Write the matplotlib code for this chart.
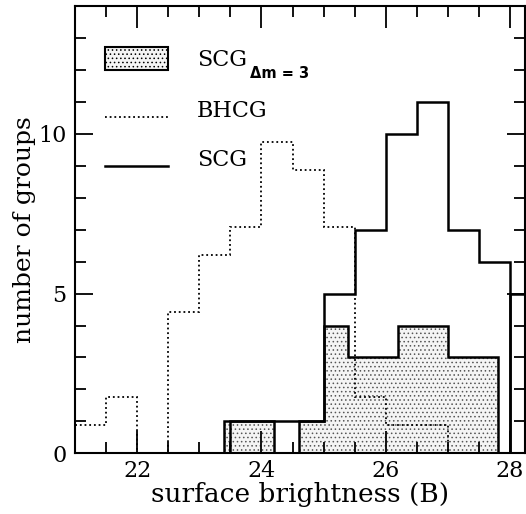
import numpy as np
import matplotlib
matplotlib.use("Agg")
import matplotlib.pyplot as plt

plt.rcParams['font.family'] = ['DejaVu Serif']
plt.rcParams['mathtext.fontset'] = 'dejavuserif'
plt.rcParams['hatch.linewidth'] = 0.6
plt.rcParams['hatch.color'] = '#555555'

# BHCG (dotted), bins of 0.5 starting at 21.0
bhcg_edges = [21.0, 21.5, 22.0, 22.5, 23.0, 23.5, 24.0, 24.5, 25.0, 25.5, 26.0, 26.5, 27.0]
bhcg_counts = [0.89, 1.77, 0.0, 4.43, 6.2, 7.09, 9.75, 8.86, 7.09, 1.77, 0.89, 0.89]

# SCG (solid), bins of 0.5 starting at 23.5
scg_edges = [23.5, 24.0, 24.5, 25.0, 25.5, 26.0, 26.5, 27.0, 27.5, 28.0, 28.5]
scg_counts = [1, 1, 1, 5, 7, 10, 11, 7, 6, 5]

# SCG dm=3 (shaded), bins of 0.4 starting at 23.4
dm3_edges = [23.4, 23.8, 24.2, 24.6, 25.0, 25.4, 25.8, 26.2, 26.6, 27.0, 27.4, 27.8]
dm3_counts = [1, 1, 0, 1, 4, 3, 3, 4, 4, 3, 3]

xticks_major = [22, 24, 26, 28]
yticks_major = [0, 5, 10]

fig = plt.figure(figsize=(5.26, 5.14), dpi=100)
ax = fig.add_axes([75/526, (514-453.3)/514, (525-75)/526, (453.3-6)/514])

# shaded histogram
ax.stairs(dm3_counts, dm3_edges, baseline=0, fill=True, facecolor='#f4f4f4',
          hatch='....', edgecolor='#555555', linewidth=0, zorder=1)
ax.stairs(dm3_counts, dm3_edges, baseline=0, fill=False, color='black',
          linewidth=1.8, zorder=3)

# BHCG dotted
ax.stairs(bhcg_counts, bhcg_edges, baseline=0, fill=False, color='black',
          linewidth=1.3, linestyle=(0, (1, 1.6)), zorder=2)

# SCG solid
ax.stairs(scg_counts[:-1], scg_edges[:-1], baseline=0, fill=False, color='black',
          linewidth=1.8, zorder=3)
ax.stairs(scg_counts[-1:], scg_edges[-2:], baseline=0, fill=False, color='black',
          linewidth=1.8, zorder=3)

ax.set_xlim(21.0, 28.24)
ax.set_ylim(0, 14)

ax.set_xticks(xticks_major)
ax.set_xticks(np.arange(21.5, 28.3, 0.5), minor=True)
ax.set_yticks(yticks_major)
ax.set_yticks(np.arange(0, 14.1, 1), minor=True)
ax.tick_params(which='both', direction='in', top=True, right=True, labelsize=16, width=1.3)
ax.tick_params(axis='x', which='major', length=16, pad=5)
ax.tick_params(axis='y', which='major', length=13, pad=6)
ax.tick_params(which='minor', length=8)
for s in ax.spines.values():
    s.set_linewidth(1.5)

ax.set_xlabel('surface brightness (B)', fontsize=19, labelpad=0)
ax.set_ylabel('number of groups', fontsize=18, labelpad=2)

# legend (custom)
T = ax.transAxes
def fx(px):
    return (px - 75) / (525 - 75)
def fy(py):
    return (453.3 - py) / (453.3 - 6)

ax.add_patch(plt.Rectangle((fx(105), fy(70)), fx(168) - fx(105), fy(46.7) - fy(70),
                           transform=T, facecolor='#f4f4f4', hatch='....',
                           edgecolor='black', linewidth=1.5, zorder=4))
ax.plot([fx(105), fx(168)], [fy(116.7), fy(116.7)], transform=T, color='black',
        linewidth=1.3, linestyle=(0, (1, 1.6)))
ax.plot([fx(105), fx(168)], [fy(165.7), fy(165.7)], transform=T, color='black',
        linewidth=1.8)
ax.text(fx(197), fy(60), 'SCG', transform=T, fontsize=16, va='center', ha='left')
ax.text(fx(250), fy(74), 'Δm = 3', transform=T, fontsize=10.5, va='center', ha='left',
        family=['DejaVu Sans'], fontweight='bold')
ax.text(fx(197), fy(111), 'BHCG', transform=T, fontsize=16, va='center', ha='left')
ax.text(fx(197), fy(160), 'SCG', transform=T, fontsize=16, va='center', ha='left')

fig.savefig('out.png', dpi=100)
